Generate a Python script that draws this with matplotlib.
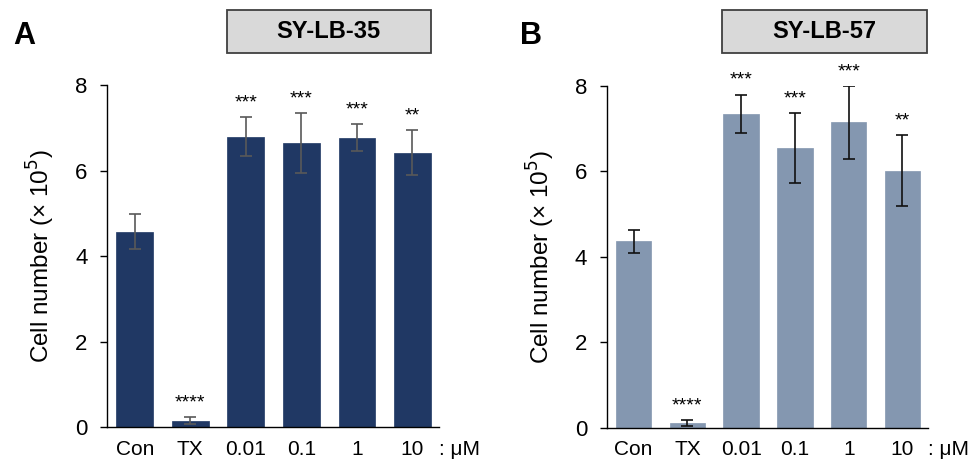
import matplotlib.pyplot as plt
from matplotlib.patches import Rectangle
from matplotlib.transforms import blended_transform_factory

plt.rcParams["font.family"] = ["Liberation Sans", "DejaVu Sans"]

groups = ["Con", "TX", "0.01", "0.1", "1", "10"]

lb35_mean = [4.57, 0.15, 6.79, 6.64, 6.77, 6.42]
lb35_err = [0.41, 0.08, 0.46, 0.70, 0.31, 0.53]
lb35_stars = ["", "****", "***", "***", "***", "**"]

lb57_mean = [4.36, 0.12, 7.35, 6.55, 7.15, 6.02]
lb57_err = [0.27, 0.07, 0.45, 0.81, 0.86, 0.83]
lb57_stars = ["", "****", "***", "***", "***", "**"]

W, H = 975, 462


def title_box(fig, text, x0, x1):
    # box drawn in figure pixels -> fraction
    y0, y1 = 10, 52.7
    fig.patches.append(Rectangle((x0 / W, 1 - y1 / H), (x1 - x0) / W, (y1 - y0) / H,
                                 transform=fig.transFigure, facecolor="#d9d9d9",
                                 edgecolor="#404040", linewidth=1.3))
    fig.text((x0 + x1) / 2 / W, 1 - (y0 + y1) / 2 / H, text, ha="center", va="center",
             fontsize=17, fontweight="bold")


def draw_panel(ax, means, errs, stars, bar_color, err_color):
    x = range(len(groups))
    ax.bar(x, means, width=0.66, color=bar_color, edgecolor=bar_color, linewidth=0.5, zorder=2)
    ax.errorbar(x, means, yerr=errs, fmt="none", ecolor=err_color, elinewidth=1.2,
                capsize=4, capthick=1.2, zorder=3)
    for xi, m, e, s in zip(x, means, errs, stars):
        if s:
            ax.annotate(s, xy=(xi, m + e), xytext=(0, 4), textcoords="offset points",
                        ha="center", va="bottom", fontsize=14)

    ax.set_xlim(-0.5, len(groups) - 0.52)
    ax.set_ylim(0, 8)
    ax.set_yticks([0, 2, 4, 6, 8])
    ax.set_xticks(list(x))
    ax.set_xticklabels(groups)
    ax.tick_params(axis="y", direction="out", length=5, width=1, pad=9, labelsize=16)
    ax.tick_params(axis="x", length=0, pad=9, labelsize=15)
    for side in ["top", "right"]:
        ax.spines[side].set_visible(False)
    for side in ["left", "bottom"]:
        ax.spines[side].set_linewidth(1)
    ax.set_ylabel("Cell number (× 10$^{5}$)", fontsize=17.5, labelpad=13)

    # unit label after the last tick
    trans = blended_transform_factory(ax.transAxes, ax.transData)
    ax.annotate(": μM", xy=(1.0, 0), xycoords=trans, xytext=(0, -9),
                textcoords="offset points", ha="left", va="top", fontsize=15)


fig = plt.figure(figsize=(9.75, 4.62), dpi=100)
ax_a = fig.add_axes([0.1097, 0.0751, 0.3406, 0.7409])
ax_b = fig.add_axes([0.6223, 0.0742, 0.3298, 0.7397])

draw_panel(ax_a, lb35_mean, lb35_err, lb35_stars, "#203864", "#595959")
draw_panel(ax_b, lb57_mean, lb57_err, lb57_stars, "#8497b0", "#111111")

title_box(fig, "SY-LB-35", 226.7, 430.7)
title_box(fig, "SY-LB-57", 722.3, 926.7)

fig.text(13 / W, 1 - 36 / H, "A", ha="left", va="center", fontsize=22, fontweight="bold")
fig.text(520 / W, 1 - 36 / H, "B", ha="left", va="center", fontsize=22, fontweight="bold")

fig.savefig("out.png", dpi=100)
